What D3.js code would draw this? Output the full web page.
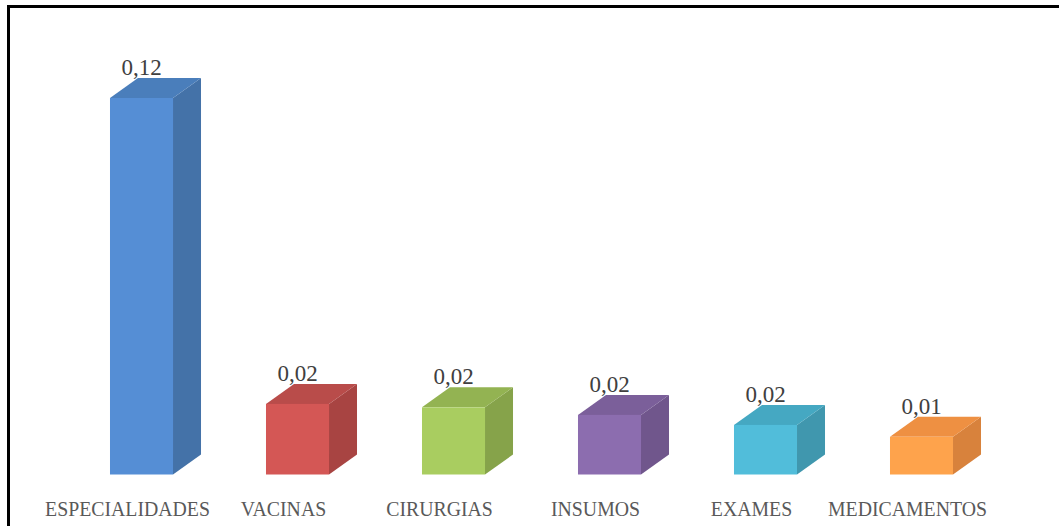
<!DOCTYPE html>
<html>
<head>
<meta charset="utf-8">
<script src="https://cdn.jsdelivr.net/npm/d3@7"></script>
<style>
  body { margin: 0; background: #fff; }
  svg { display: block; }
</style>
</head>
<body>
<div id="chart"></div>
<script>
// chart data
var categories = ["ESPECIALIDADES", "VACINAS", "CIRURGIAS", "INSUMOS", "EXAMES", "MEDICAMENTOS"];
var values = [0.12, 0.0225, 0.0214, 0.019, 0.0158, 0.012];
var frontColors = ["#558ed5", "#d45755", "#a9cd60", "#8c6daf", "#51bdda", "#fea34c"];
var topColors = ["#4a7ebb", "#b94c4a", "#93b352", "#7b5f9a", "#45a8c2", "#ee9042"];
var sideColors = ["#4472a8", "#a84442", "#86a34a", "#70568c", "#4097ae", "#d8823c"];

var svgWidth = 1059;
var svgHeight = 526;

// 3d depth offset
var depthX = 28;
var depthY = -20;

var svg = d3.select("#chart")
            .append("svg")
            .attr("width", svgWidth)
            .attr("height", svgHeight);

// frame (runs off right and bottom edge like the original)
svg.append("rect")
   .attr("x", 8.5)
   .attr("y", 6.5)
   .attr("width", svgWidth + 20)
   .attr("height", svgHeight + 20)
   .attr("fill", "none")
   .attr("stroke", "#000")
   .attr("stroke-width", 3);

var xScale = d3.scaleBand()
               .domain(categories)
               .range([63.5, 999.5])
               .paddingInner(0.596)
               .paddingOuter(0.298);

var yScale = d3.scaleLinear()
               .domain([0, 0.12])
               .range([474.5, 98]);

var fmt = function(v) { return d3.format(".2f")(v).replace(".", ","); };

var data = categories.map(function(c, i) {
    return { cat: c, value: values[i], i: i };
});

var bars = svg.append("g").selectAll("g")
              .data(data)
              .enter()
              .append("g");

// side face
bars.append("path")
    .attr("fill", d => sideColors[d.i])
    .attr("d", function(d) {
        var x1 = xScale(d.cat) + xScale.bandwidth();
        var y0 = yScale(0), y1 = yScale(d.value);
        return "M" + x1 + "," + y0 + "L" + x1 + "," + y1 +
               "L" + (x1 + depthX) + "," + (y1 + depthY) +
               "L" + (x1 + depthX) + "," + (y0 + depthY) + "Z";
    });

// top face
bars.append("path")
    .attr("fill", d => topColors[d.i])
    .attr("d", function(d) {
        var x0 = xScale(d.cat), x1 = x0 + xScale.bandwidth();
        var y1 = yScale(d.value);
        return "M" + x0 + "," + y1 + "L" + x1 + "," + y1 +
               "L" + (x1 + depthX) + "," + (y1 + depthY) +
               "L" + (x0 + depthX) + "," + (y1 + depthY) + "Z";
    });

// front face
bars.append("rect")
    .attr("fill", d => frontColors[d.i])
    .attr("x", d => xScale(d.cat))
    .attr("y", d => yScale(d.value))
    .attr("width", xScale.bandwidth())
    .attr("height", d => yScale(0) - yScale(d.value));

// value labels
bars.append("text")
    .attr("x", d => xScale(d.cat) + xScale.bandwidth() / 2)
    .attr("y", d => yScale(d.value) + depthY - 3)
    .attr("text-anchor", "middle")
    .attr("font-family", "Liberation Serif, serif")
    .attr("font-size", 23)
    .attr("fill", "#404040")
    .text(d => fmt(d.value));

// category labels
var xAxis = d3.axisBottom(xScale).tickSize(0).tickPadding(0);
var axisG = svg.append("g")
               .attr("transform", "translate(-14, 500)")
               .call(xAxis);
axisG.select(".domain").remove();
axisG.selectAll("text")
     .attr("dy", "0.72em")
     .attr("transform", "scale(0.9,1)")
     .attr("font-family", "Liberation Serif, serif")
     .attr("font-size", 22)
     .attr("fill", "#595959");
</script>
</body>
</html>
